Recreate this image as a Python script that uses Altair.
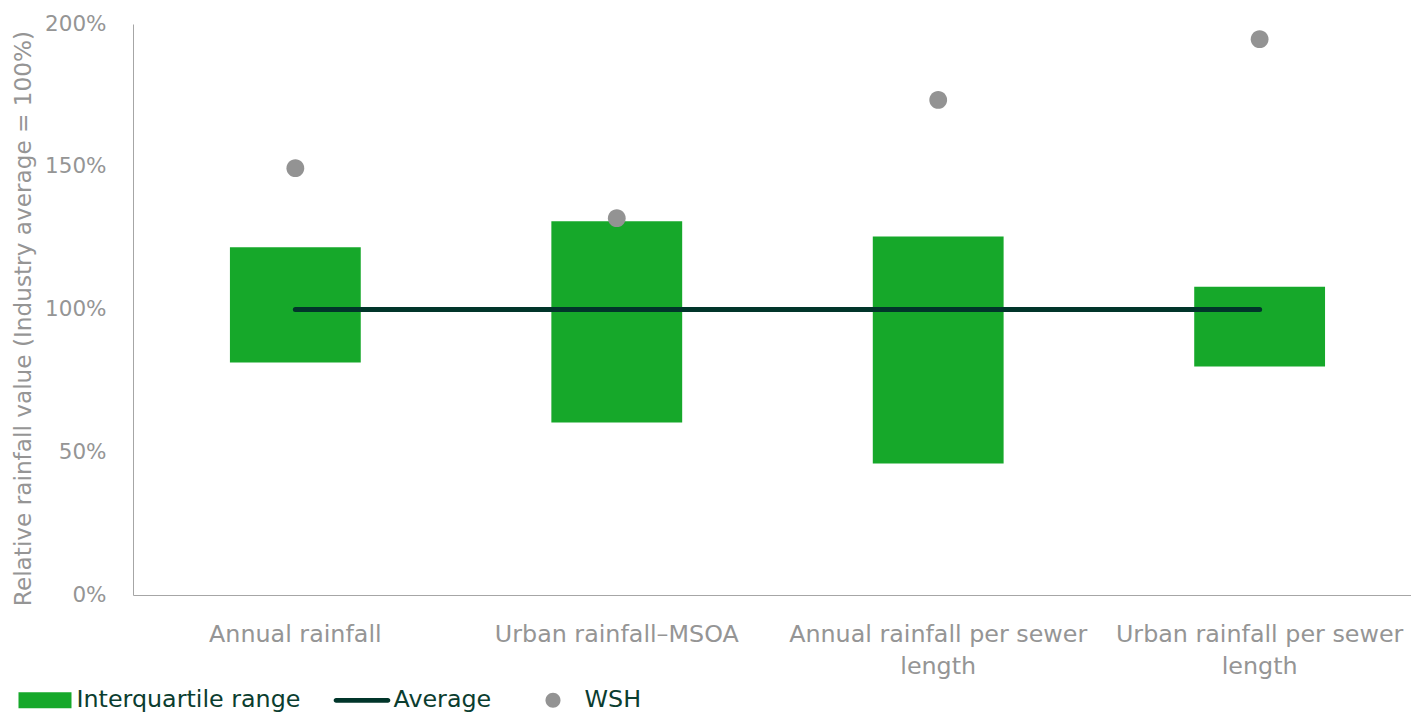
import altair as alt
import pandas as pd

# Categories and values (relative to industry average = 100%)
categories = [
    "Annual rainfall",
    "Urban rainfall\u2013MSOA",
    "Annual rainfall per sewer length",
    "Urban rainfall per sewer length",
]
iqr_low = [81.4, 60.4, 46.1, 80.0]
iqr_high = [121.8, 130.9, 125.6, 108.0]
average = [100, 100, 100, 100]
wsh = [149.5, 132.0, 173.4, 194.7]

series_names = ["Interquartile range", "Average", "WSH"]
y_ticks = [0, 50, 100, 150, 200]

GREEN = "#16a82a"
DARK = "#01352a"
GREY_DOT = "#939393"
AXIS_TEXT = "#959595"
LEGEND_TEXT = "#0b3d2f"
FONT = "DejaVu Sans"

df = pd.DataFrame({
    "category": categories,
    "low": iqr_low,
    "high": iqr_high,
    "average": average,
    "wsh": wsh,
    "series": ["WSH"] * len(categories),
})

# Legend glyphs as custom symbol paths (unit-scaled by the legend symbol size)
rect_path = "M-0.93,-0.28H0.93V0.28H-0.93Z"
line_path = ("M-0.91,-0.085H0.91A0.085,0.085 0 0,1 0.91,0.085"
             "H-0.91A0.085,0.085 0 0,1 -0.91,-0.085Z")
dot_path = "M0.263,0A0.263,0.263 0 1,1 -0.263,0A0.263,0.263 0 1,1 0.263,0Z"

x_enc = alt.X(
    "category:N",
    sort=categories,
    scale=alt.Scale(paddingInner=0.593, paddingOuter=0.2845, align=0.53),
    axis=alt.Axis(
        title=None,
        labelAngle=0,
        labelFont=FONT,
        labelFontSize=23.8,
        labelColor=AXIS_TEXT,
        labelPadding=27,
        labelLineHeight=32,
        labelLimit=0,
        labelExpr="split(replace(datum.label, ' sewer length', ' sewer|length'), '|')",
        ticks=False,
        domainColor="#a6a6a6",
        domainWidth=1,
    ),
)

y_scale = alt.Scale(domain=[0, 200], nice=False)
y_axis = alt.Axis(
    title="Relative rainfall value (Industry average = 100%)",
    titleFont=FONT,
    titleFontSize=23.2,
    titleFontWeight="normal",
    titleColor=AXIS_TEXT,
    titlePadding=9,
    titleLimit=0,
    titleY=294,
    values=y_ticks,
    labelExpr="datum.value + '%'",
    labelFont=FONT,
    labelFontSize=21.5,
    labelColor=AXIS_TEXT,
    labelPadding=27,
    ticks=False,
    grid=False,
    domainColor="#a6a6a6",
    domainWidth=1,
)

bars = alt.Chart(df).mark_bar(color=GREEN).encode(
    x=x_enc,
    y=alt.Y("low:Q", scale=y_scale, axis=y_axis),
    y2="high:Q",
)

avg_line = alt.Chart(df).mark_line(
    color=DARK, strokeWidth=5, strokeCap="round"
).encode(
    x=alt.X("category:N", sort=categories),
    y=alt.Y("average:Q"),
)

points = alt.Chart(df).mark_point(filled=True, opacity=1, size=4580).encode(
    x=alt.X("category:N", sort=categories),
    y=alt.Y("wsh:Q"),
    color=alt.Color(
        "series:N",
        scale=alt.Scale(domain=series_names, range=[GREEN, DARK, GREY_DOT]),
        legend=alt.Legend(
            title=None,
            orient="none",
            legendX=-116.5,
            legendY=647.5,
            direction="horizontal",
            padding=0,
            labelFont=FONT,
            labelFontSize=23.8,
            labelColor=LEGEND_TEXT,
            labelOffset=3,
            labelLimit=0,
            columnPadding=33,
            symbolSize=3249,
            symbolStrokeWidth=0,
            symbolOpacity=1,
        ),
    ),
    shape=alt.Shape(
        "series:N",
        scale=alt.Scale(domain=series_names, range=[rect_path, line_path, dot_path]),
    ),
)

chart = (
    alt.layer(bars, avg_line, points)
    .properties(
        width=1278,
        height=571,
        autosize=alt.AutoSizeParams(type="none"),
        padding={"left": 133, "top": 24, "right": 0, "bottom": 118},
        background="white",
    )
    .configure_view(stroke=None)
)

chart.save("out.html", embed_options={"renderer": "svg", "actions": False})
